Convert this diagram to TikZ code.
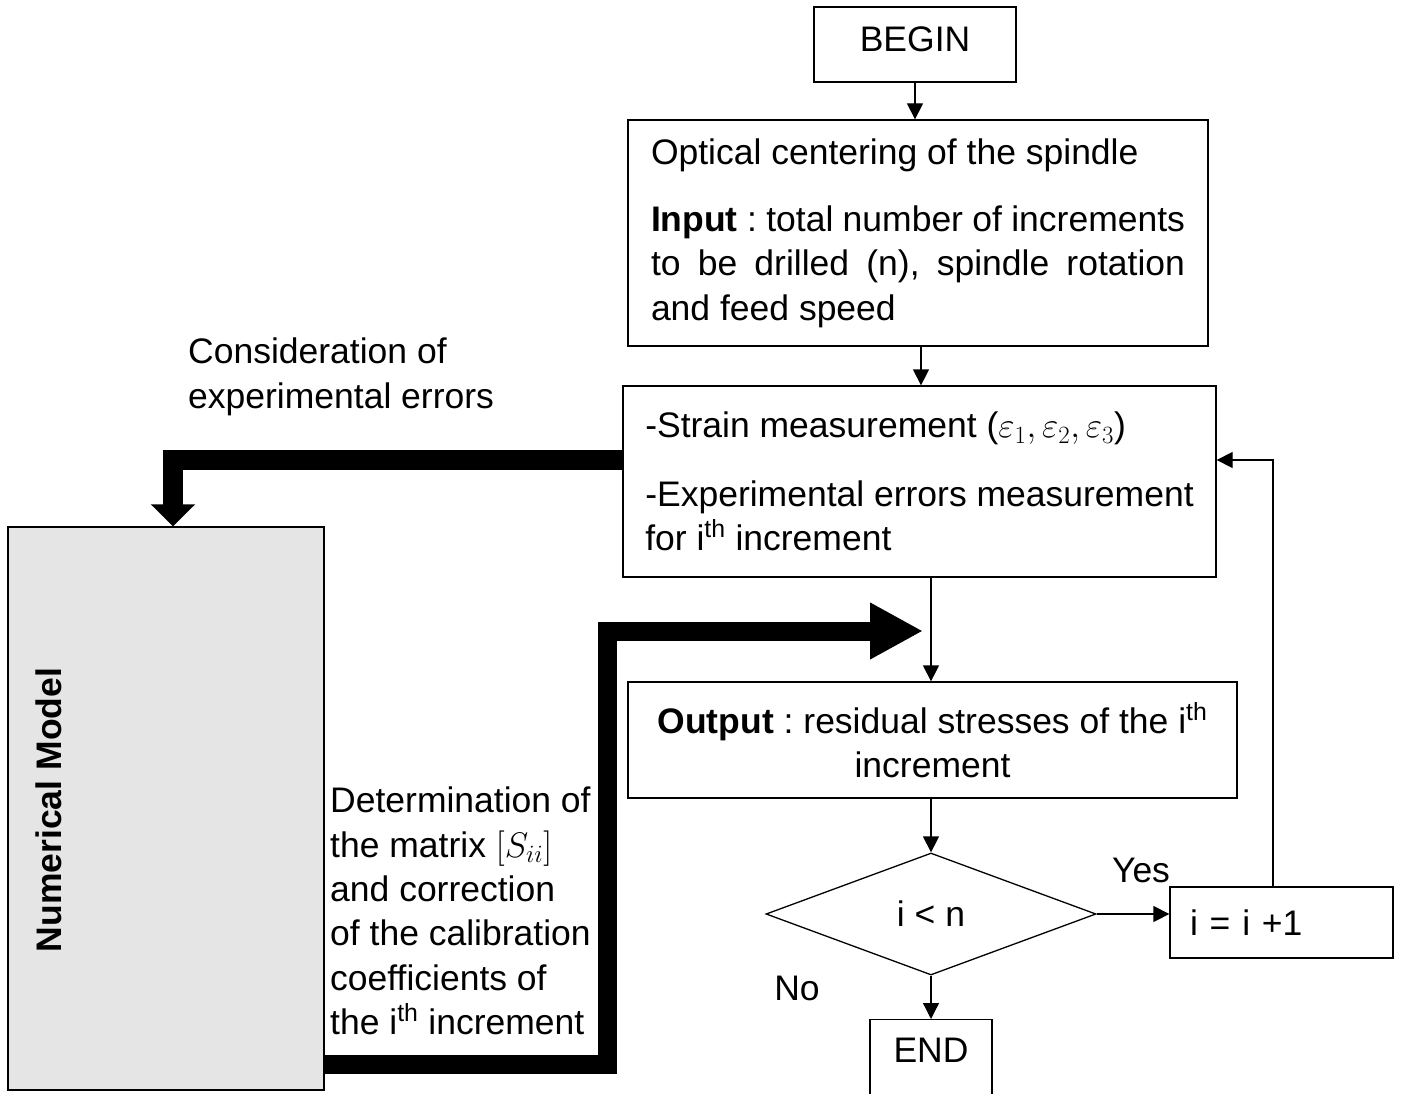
\documentclass[tikz,border=0pt]{standalone}
\usepackage{fix-cm}
\usepackage[no-math]{fontspec}
\setmainfont{Liberation Sans}
\usetikzlibrary{arrows.meta,shapes.geometric}
\definecolor{nmgray}{HTML}{E5E5E5}
\frenchspacing
\tikzset{
  every node/.style={font=\fontsize{35.5}{44.4}\selectfont\frenchspacing},
  box/.style={draw, line width=1.3pt, inner sep=0pt},
  arr/.style={line width=1.3pt, -{Triangle[width=16pt,length=16pt]}},
  fatA/.style={line width=20pt, -{Triangle[width=43pt,length=22pt]}},
  fatB/.style={line width=19pt, -{Triangle[width=53pt,length=53pt]}},
}
\begin{document}
\begin{tikzpicture}[x=1pt,y=-1pt]
\useasboundingbox (0,0) rectangle (1403,1094);
% boxes
\node[box, minimum width=202pt, minimum height=75pt, text depth=11pt] (begin) at (915,44.5) {BEGIN};
\node[box, minimum width=580pt, minimum height=226pt, text width=534pt, align=justify] (init) at (918,233)
 {Optical centering of the spindle\par\vspace{23pt}\textbf{Input} : total number of increments\linebreak to be drilled (n), spindle rotation\linebreak and feed speed};
\node[box, minimum width=593pt, minimum height=191pt, align=left] (meas) at (919.5,481.5)
 {-Strain measurement ($\varepsilon_1, \varepsilon_2, \varepsilon_3$)\\[24pt]-Experimental errors measurement\\for i\textsuperscript{th} increment};
\node[box, minimum width=609pt, minimum height=116pt, align=center] (out) at (932.5,740)
 {\textbf{Output} : residual stresses of the i\textsuperscript{th}\\increment};
\node[draw, diamond, line width=1.3pt, minimum width=330pt, minimum height=122pt, inner sep=0pt] (test) at (931,914) {i < n};
\node[box, minimum width=223pt, minimum height=71pt, text width=183pt, align=left] (inc) at (1281.5,922.5) {i = i +1};
\node[box, minimum width=122pt, minimum height=78pt, text depth=16pt, anchor=north] (end) at (931,1019) {END};
\node[box, fill=nmgray, minimum width=316pt, minimum height=563pt] (nm) at (166,808.5) {};
\node[rotate=90, font=\fontsize{35.5}{44.4}\selectfont\bfseries] (nmlabel) at (49,810) {Numerical Model};
% free texts
\node[align=left, anchor=west, inner sep=0pt] (det) at (330,911)
 {Determination of\\the matrix $[S_{ii}]$\\and correction\\of the calibration\\coefficients of\\the i\textsuperscript{th} increment};
\node[align=left, anchor=west, inner sep=0pt] (cons) at (188,377) {Consideration of\\experimental errors};
\node (yes) at (1141,870) {Yes};
\node (no) at (797,988) {No};
% connectors
\draw[arr] (begin.south) -- (begin.south |- init.north);
\draw[arr] ([xshift=3pt]init.south) -- ([xshift=3pt]init.south |- meas.north);
\draw[arr] (test.north |- meas.south) -- (test.north |- out.north);
\draw[arr] (test.north |- out.south) -- (test.north);
\draw[arr] (test.east) -- (test.east -| inc.west);
\draw[arr] (test.south) -- (end.north);
\coordinate (fb) at (1273,460);
\draw[arr] (fb |- inc.north) -- (fb) -- (fb -| meas.east);
\coordinate (k1) at (173,460);
\draw[fatA] (k1 -| meas.west) -- (k1) -- (k1 |- nm.north);
\coordinate (k2) at (607,1064);
\coordinate (k3) at (923,631);
\draw[fatB] (k2 -| nm.east) -- (k2) -- (k2 |- k3) -- (k3);
\end{tikzpicture}
\end{document}
